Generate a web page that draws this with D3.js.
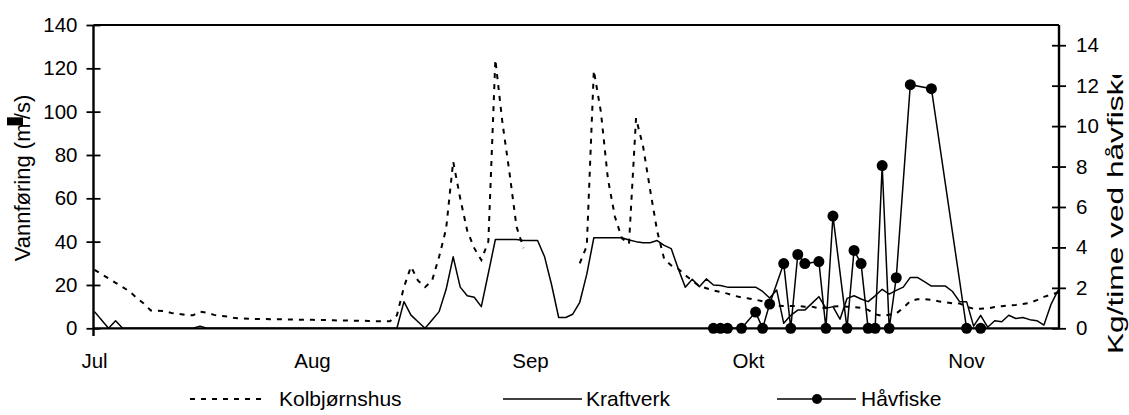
<!DOCTYPE html>
<html>
<head>
<meta charset="utf-8">
<script src="https://cdn.jsdelivr.net/npm/d3@7"></script>
<style>
  body { margin: 0; background: #fff; }
  svg { display: block; }
  text { font-family: "Liberation Sans", Arial, sans-serif; fill: #000; }
</style>
</head>
<body>
<svg id="chart" width="1129" height="415"></svg>
<script>
// Month labels on the time axis and the day index (from 1 July) each sits on
const monthLabels = ["Jul", "Aug", "Sep", "Okt", "Nov"];
const monthTickDays = [0, 31, 62, 93, 124];

// Left axis (discharge, m3/s) and right axis (catch per hour) ticks
const leftTicks = [0, 20, 40, 60, 80, 100, 120, 140];
const rightTicks = [0, 2, 4, 6, 8, 10, 12, 14];

// Daily discharge at Kolbjørnshus, one value per day from 1 July (null = no data)
const kolbjornshus = [
  27, 25, 23, 21, 19, 17, 14, 11.5, 8.2, 8.1,
  8, 7, 6.6, 6.2, 6, 7.7, 7.2, 6.2, 5.7, 5.4,
  4.7, 4.5, 4.4, 4.3, 4.3, 4.2, 4.2, 4.1, 4.1, 4,
  4, 3.9, 3.8, 3.8, 3.7, 3.6, 3.6, 3.5, 3.5, 3.4,
  3.3, 3.2, 3.2, 6, 19, 28.5, 22, 19, 22, 33,
  46, 77, 60, 45, 37, 31.5, 40, 124, 95, 72,
  47, 37, null, null, null, null, null, null, null, 30,
  38, 119, 100, 69, 51.5, 41.5, 39, 97, 84, 64,
  45, 32, 29, 27.5, 24.5, 22, 19.5, 18.5, 17.5, 16.8,
  16, 15, 14.3, 13.8, 13.2, 12.5, 11.5, 10.5, 10.3, 10.3,
  10.3, 10, 10, 9.2, 9.5, 10, 10.3, 10, 9.7, 9.5,
  8.5, 6.5, 5.7, 6.3, 6.8, 9.5, 12.5, 13.4, 13.4, 13.2,
  12.5, 12, 11.5, 11.5, 10, 9, 9, 9.2, 9.8, 10.2,
  10.5, 10.8, 11.2, 11.8, 13, 14.5, 15.5, 16.5
];

// Daily discharge below the power station (Kraftverk)
const kraftverk = [
  7.7, 3.8, 0, 3.5, 0, 0, 0, 0, 0, 0,
  0, 0, 0, 0, 0, 1, 0, 0, 0, 0,
  0, 0, 0, 0, 0, 0, 0, 0, 0, 0,
  0, 0, 0, 0, 0, 0, 0, 0, 0, 0,
  0, 0, 0, 0, 12.3, 6.1, 3, 0, 3.8, 7.7,
  18, 33, 19, 15, 14.3, 10, 25.4, 41, 41, 41,
  41, 40.5, 40.5, 40.5, 33, 20, 5, 5, 6.5, 12,
  25, 41.8, 41.8, 41.8, 41.8, 41.8, 40.8, 40, 39.5, 39.5,
  40.5, 38.3, 36.8, 27.5, 19, 22.6, 19.2, 22.8, 20, 19.8,
  19, 19, 19, 19, 19, 17, 14, 17.7, 2.3, 6,
  8.4, 8.4, 11.5, 14.6, 9.2, 10, 4.2, 13.8, 15, 13.5,
  12.3, 15, 18, 15.8, 17.5, 19, 23.5, 23.5, 21.5, 19.5,
  19.5, 19.5, 17, 12.3, 12.3, 1, 6, 0.5, 3.5, 3,
  6, 4.5, 5, 4, 3.5, 1.5, 11, 17.5
];

// Dip-net fishing: day index and kg per hour
const havfiskeDays = [88, 89, 90, 92, 94, 95, 96, 98, 99, 100, 101, 103, 104,
  105, 107, 108, 109, 110, 111, 112, 113, 114, 116, 119, 124, 126];
const havfiskeValues = [0, 0, 0, 0, 0.8, 0, 1.2, 3.2, 0, 3.65, 3.2, 3.3, 0,
  5.55, 0, 3.85, 3.2, 0, 0, 8.05, 0, 2.5, 12.05, 11.85, 0, 0];

const svg = d3.select("#chart");
const W = 1129, H = 415;
const plot = { left: 93.5, right: 1059, top: 25, bottom: 328.3 };
const FONT = '"Liberation Sans", Arial, sans-serif';

const x = d3.scaleLinear().domain([0, 137]).range([94.5, 1058]);
const yL = d3.scaleLinear().domain([0, 140]).range([plot.bottom, plot.top]);
const yR = d3.scaleLinear().domain([0, 15]).range([plot.bottom, plot.top]);

svg.append("rect").attr("width", W).attr("height", H).attr("fill", "#fff");

const kolbData = kolbjornshus.map((v, i) => ({ day: i, v }));
const kraftData = kraftverk.map((v, i) => ({ day: i, v }));
const havData = havfiskeDays.map((d, i) => ({ day: d, v: havfiskeValues[i] }));

const lineL = d3.line().defined(d => d.v != null).x(d => x(d.day)).y(d => yL(d.v));
const lineR = d3.line().x(d => x(d.day)).y(d => yR(d.v));

// Series
svg.append("path").datum(kolbData)
  .attr("d", lineL).attr("fill", "none").attr("stroke", "#000")
  .attr("stroke-width", 2).attr("stroke-dasharray", "5,6");

svg.append("path").datum(kraftData)
  .attr("d", lineL).attr("fill", "none").attr("stroke", "#000")
  .attr("stroke-width", 1.5).attr("stroke-linejoin", "round");

svg.append("path").datum(havData)
  .attr("d", lineR).attr("fill", "none").attr("stroke", "#000")
  .attr("stroke-width", 1.5);

svg.append("g").selectAll("circle").data(havData).join("circle")
  .attr("cx", d => x(d.day)).attr("cy", d => yR(d.v)).attr("r", 5.5)
  .attr("fill", "#000");

// Frame: top border and x axis line
svg.append("line").attr("x1", plot.left).attr("x2", plot.right)
  .attr("y1", plot.top).attr("y2", plot.top)
  .attr("stroke", "#000").attr("stroke-width", 2);
svg.append("line").attr("x1", plot.left).attr("x2", plot.right)
  .attr("y1", plot.bottom).attr("y2", plot.bottom)
  .attr("stroke", "#000").attr("stroke-width", 2.2);

// Left axis
const gL = svg.append("g").attr("transform", `translate(${plot.left},0)`)
  .call(d3.axisLeft(yL).tickValues(leftTicks).tickSize(7).tickPadding(9).tickFormat(d3.format("d")));
gL.select(".domain").remove();
gL.selectAll(".tick line").attr("x1", -7).attr("x2", 7).attr("stroke-width", 1.8);
gL.selectAll(".tick text").attr("font-size", 20.5).attr("x", -16).style("font-family", FONT);
svg.append("line").attr("x1", plot.left).attr("x2", plot.left)
  .attr("y1", plot.top).attr("y2", 336).attr("stroke", "#000").attr("stroke-width", 2.4);

// Right axis
const gR = svg.append("g").attr("transform", `translate(${plot.right},0)`)
  .call(d3.axisRight(yR).tickValues(rightTicks).tickSize(7).tickPadding(9).tickFormat(d3.format("d")));
gR.select(".domain").remove();
gR.selectAll(".tick line").attr("x1", -7).attr("x2", 7).attr("stroke-width", 1.8);
gR.selectAll(".tick text").attr("font-size", 20.5).attr("x", 17).style("font-family", FONT);
svg.append("line").attr("x1", plot.right).attr("x2", plot.right)
  .attr("y1", plot.top).attr("y2", plot.bottom).attr("stroke", "#000").attr("stroke-width", 2.4);

// Month labels
svg.append("g").selectAll("text").data(monthTickDays).join("text")
  .attr("x", d => x(d)).attr("y", 368).attr("text-anchor", "middle")
  .attr("font-size", 20.5).text((d, i) => monthLabels[i]);

// Left axis title
const tL = svg.append("g").attr("transform", "translate(30,178) rotate(-90)");
const titleL = tL.append("text").attr("text-anchor", "middle").attr("font-size", 22);
titleL.append("tspan").text("Vannføring (m");
titleL.append("tspan").attr("baseline-shift", "super").attr("font-size", 13).text("³");
titleL.append("tspan").text("/s)");
{
  const node = titleL.node();
  const idx = "Vannføring (m".length;
  const ext = node.getExtentOfChar(idx);
  tL.append("rect").attr("x", ext.x + ext.width / 2 - 4).attr("width", 8)
    .attr("y", -23).attr("height", 16).attr("fill", "#000");
}

// Right axis title (cut off at the top edge of its box)
svg.append("clipPath").attr("id", "rtclip").append("rect")
  .attr("x", 1070).attr("y", 75).attr("width", 60).attr("height", 340);
svg.append("g").attr("clip-path", "url(#rtclip)")
  .append("text").attr("transform", "translate(1123,354) rotate(-90)")
  .attr("font-size", 22).attr("textLength", 292).attr("lengthAdjust", "spacingAndGlyphs")
  .text("Kg/time ved håvfiske");

// Legend
const leg = svg.append("g");
const ly = 399;
leg.append("line").attr("x1", 190).attr("x2", 264).attr("y1", ly).attr("y2", ly)
  .attr("stroke", "#000").attr("stroke-width", 2).attr("stroke-dasharray", "5,6");
leg.append("text").attr("x", 279).attr("y", ly + 7).attr("font-size", 21).text("Kolbjørnshus");
leg.append("line").attr("x1", 503).attr("x2", 582).attr("y1", ly).attr("y2", ly)
  .attr("stroke", "#000").attr("stroke-width", 1.5);
leg.append("text").attr("x", 586).attr("y", ly + 7).attr("font-size", 21).text("Kraftverk");
leg.append("line").attr("x1", 777).attr("x2", 856).attr("y1", ly).attr("y2", ly)
  .attr("stroke", "#000").attr("stroke-width", 1.5);
leg.append("circle").attr("cx", 817).attr("cy", ly).attr("r", 5).attr("fill", "#000");
leg.append("text").attr("x", 861).attr("y", ly + 7).attr("font-size", 21).text("Håvfiske");
</script>
</body>
</html>
